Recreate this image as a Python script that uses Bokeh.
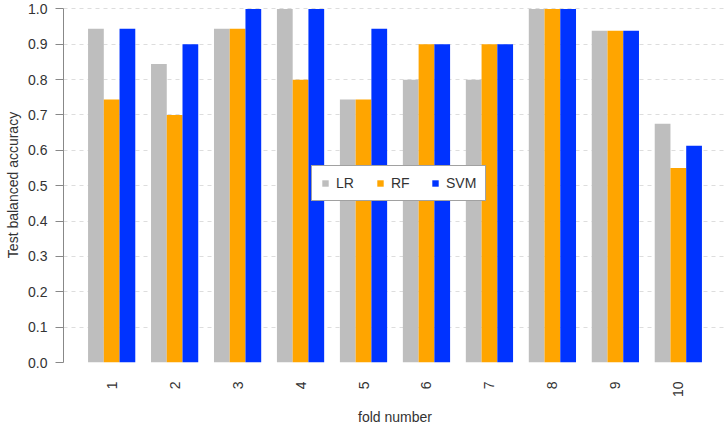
import numpy as np
from bokeh.plotting import figure
from bokeh.models import Range1d, FixedTicker
from bokeh.embed import file_html
from bokeh.resources import INLINE

folds = ["1", "2", "3", "4", "5", "6", "7", "8", "9", "10"]
lr = [0.944, 0.844, 0.944, 1.0, 0.744, 0.8, 0.8, 1.0, 0.938, 0.675]
rf = [0.744, 0.7, 0.944, 0.8, 0.744, 0.9, 0.9, 1.0, 0.938, 0.55]
svm = [0.944, 0.9, 1.0, 1.0, 0.944, 0.9, 0.9, 1.0, 0.938, 0.613]
models = ["LR", "RF", "SVM"]
colors = ["#BEBEBE", "#FFA500", "#0033FF"]
y_ticks = [0.0, 0.1, 0.2, 0.3, 0.4, 0.5, 0.6, 0.7, 0.8, 0.9, 1.0]

FONT = "Liberation Sans"
TXT = "#333333"

# R barplot(beside=TRUE) layout: bar width 1, one bar of space before each group
idx = np.arange(len(folds))
group_start = 1 + 4 * idx
centers = group_start + 1.5

p = figure(width=726, height=428, output_backend="svg", toolbar_location=None,
           x_range=Range1d(-0.56, 41.56), y_range=Range1d(0, 1.004),
           min_border_left=63, min_border_right=0, min_border_top=7,
           min_border_bottom=65)

for k, (name, vals, col) in enumerate(zip(models, [lr, rf, svm], colors)):
    p.vbar(x=group_start + k + 0.5, top=vals, bottom=0, width=1.0,
           fill_color=col, line_color=None, legend_label=name)

p.outline_line_color = None
p.background_fill_color = "white"
p.xgrid.grid_line_color = None
p.ygrid.ticker = FixedTicker(ticks=y_ticks)
p.ygrid.grid_line_color = "#DDDDDD"
p.ygrid.grid_line_dash = "4 4"
p.ygrid.grid_line_width = 1

# y axis
ya = p.yaxis[0]
ya.ticker = FixedTicker(ticks=y_ticks)
ya.major_label_overrides = {t: f"{t:.1f}" for t in y_ticks}
ya.bounds = (0, 1)
ya.axis_line_color = "#888888"
ya.major_tick_line_color = "#888888"
ya.major_tick_out = 8
ya.major_tick_in = 0
ya.minor_tick_line_color = None
ya.major_label_standoff = 8
ya.major_label_text_font = FONT
ya.major_label_text_font_size = "14px"
ya.major_label_text_color = TXT
ya.axis_label = "Test balanced accuracy"
ya.axis_label_standoff = 4
ya.axis_label_text_font = FONT
ya.axis_label_text_font_size = "14px"
ya.axis_label_text_font_style = "normal"
ya.axis_label_text_color = TXT

# x axis
xa = p.xaxis[0]
xa.ticker = FixedTicker(ticks=list(centers))
xa.major_label_overrides = {float(c): f for c, f in zip(centers, folds)}
xa.major_label_orientation = np.pi / 2
xa.axis_line_color = None
xa.major_tick_line_color = None
xa.minor_tick_line_color = None
xa.major_label_standoff = 13
xa.major_label_text_font = FONT
xa.major_label_text_font_size = "14px"
xa.major_label_text_color = TXT
xa.axis_label = "fold number"
xa.axis_label_standoff = 9
xa.axis_label_text_font = FONT
xa.axis_label_text_font_size = "14px"
xa.axis_label_text_font_style = "normal"
xa.axis_label_text_color = TXT

lg = p.legend[0]
lg.orientation = "horizontal"
lg.location = (248, 161)
lg.glyph_width = 8
lg.glyph_height = 8
lg.label_standoff = 7
lg.spacing = 20
lg.padding = 9
lg.margin = 0
lg.border_line_color = "#444444"
lg.border_line_width = 1
lg.background_fill_color = "white"
lg.background_fill_alpha = 1
lg.label_text_font = FONT
lg.label_text_font_size = "14px"
lg.label_text_color = TXT

open("out.html", "w").write(file_html(p, INLINE))
